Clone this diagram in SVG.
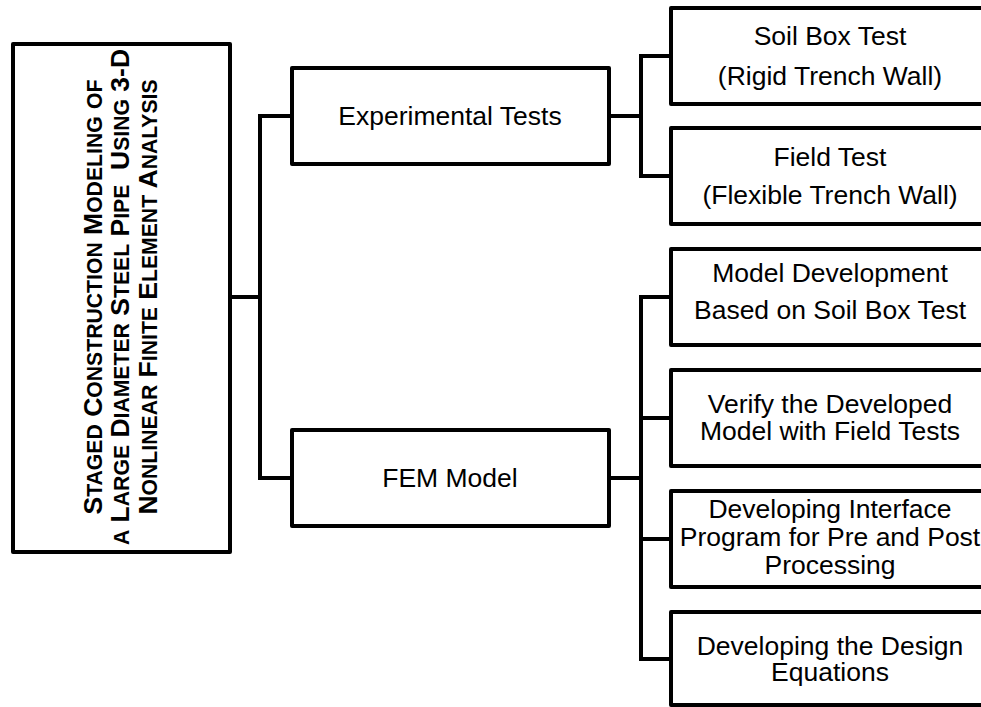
<svg xmlns="http://www.w3.org/2000/svg" width="981" height="707" viewBox="0 0 981 707">
<style>
.box{fill:#fff;stroke:#000;stroke-width:4;stroke-linejoin:round}
.conn{fill:none;stroke:#000;stroke-width:4;stroke-linejoin:miter;stroke-linecap:square}
text{font-family:"Liberation Sans",Arial,sans-serif;font-size:26.5px;fill:#000;text-anchor:middle}
.title{font-weight:bold}
.sc{font-size:21.2px}
</style>
<rect width="981" height="707" fill="#fff"/>
<g id="connectors">
<path class="conn" d="M230,297 H260"/>
<path class="conn" d="M292,116 H260 V478 H292"/>
<path class="conn" d="M609,116 H641"/>
<path class="conn" d="M671,56 H641 V176 H671"/>
<path class="conn" d="M609,478 H641"/>
<path class="conn" d="M671,297 H641 V659 H671 M641,418 H671 M641,539 H671"/>
</g>
<g id="title-node">
<rect class="box" x="13" y="44" width="217" height="508"/>
<text class="title" xml:space="preserve" transform="translate(102,297) rotate(-90)"><tspan>S</tspan><tspan class="sc">TAGED</tspan> <tspan>C</tspan><tspan class="sc">ONSTRUCTION</tspan> <tspan>M</tspan><tspan class="sc">ODELING</tspan> <tspan class="sc">OF</tspan></text>
<text class="title" xml:space="preserve" transform="translate(129,297) rotate(-90)"><tspan class="sc">A</tspan> <tspan>L</tspan><tspan class="sc">ARGE</tspan> <tspan>D</tspan><tspan class="sc">IAMETER</tspan> <tspan>S</tspan><tspan class="sc">TEEL</tspan> <tspan>P</tspan><tspan class="sc">IPE</tspan>  <tspan>U</tspan><tspan class="sc">SING</tspan> 3-D</text>
<text class="title" xml:space="preserve" transform="translate(157,297) rotate(-90)"><tspan>N</tspan><tspan class="sc">ONLINEAR</tspan> <tspan>F</tspan><tspan class="sc">INITE</tspan> <tspan>E</tspan><tspan class="sc">LEMENT</tspan> <tspan>A</tspan><tspan class="sc">NALYSIS</tspan></text>
</g>
<g id="experimental-tests">
<rect class="box" x="292" y="68" width="317" height="96"/>
<text x="450" y="125">Experimental Tests</text>
</g>
<g id="fem-model">
<rect class="box" x="292" y="430" width="317" height="96"/>
<text x="450" y="487">FEM Model</text>
</g>
<g id="soil-box-test">
<rect class="box" x="671" y="8" width="340" height="96"/>
<text x="830" y="45">Soil Box Test</text>
<text x="830" y="85">(Rigid Trench Wall)</text>
</g>
<g id="field-test">
<rect class="box" x="671" y="128" width="340" height="96"/>
<text x="830" y="166">Field Test</text>
<text x="830" y="204">(Flexible Trench Wall)</text>
</g>
<g id="model-development">
<rect class="box" x="671" y="249" width="340" height="96"/>
<text x="830" y="282">Model Development</text>
<text x="830" y="319">Based on Soil Box Test</text>
</g>
<g id="verify-model">
<rect class="box" x="671" y="370" width="340" height="96"/>
<text x="830" y="413">Verify the Developed</text>
<text x="830" y="440">Model with Field Tests</text>
</g>
<g id="interface-program">
<rect class="box" x="671" y="491" width="340" height="96"/>
<text x="830" y="518">Developing Interface</text>
<text x="830" y="546">Program for Pre and Post</text>
<text x="830" y="574">Processing</text>
</g>
<g id="design-equations">
<rect class="box" x="671" y="612" width="340" height="93"/>
<text x="830" y="655">Developing the Design</text>
<text x="830" y="681">Equations</text>
</g>
</svg>
